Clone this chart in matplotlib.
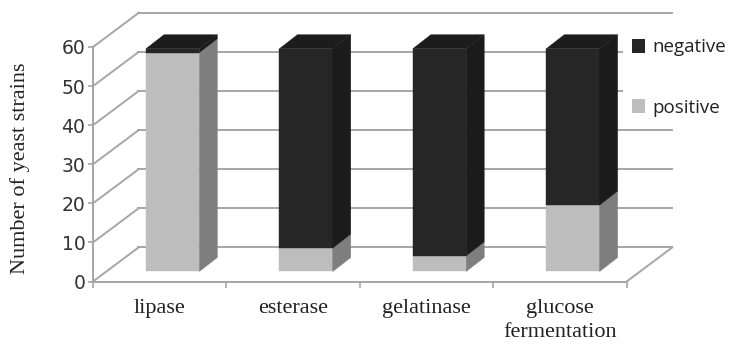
import matplotlib
matplotlib.use("Agg")
import matplotlib.pyplot as plt
from matplotlib.patches import Polygon, Patch

categories = ["lipase", "esterase", "gelatinase", "glucose\nfermentation"]
positive = [56, 6, 4, 17]
negative = [1, 51, 53, 40]
y_ticks = [0, 10, 20, 30, 40, 50, 60]

# shades of each segment: front, side, top
shades = {
    "positive": ("#bdbdbd", "#7e7e7e", "#1c1c1c"),
    "negative": ("#262626", "#1b1b1b", "#1c1c1c"),
}
grid_color = "#a6a6a6"
text_color = "#333333"

# depth of the chart, in data units
wall_dx, wall_dy = 0.341, 8.7
bar_dx, bar_dy = 0.135, 3.58
bar_left, bar_width = 0.397, 0.40
floor_dy = 2.56

fig = plt.figure(figsize=(7.29, 3.45), dpi=100)
ax = fig.add_axes([93 / 729, (345 - 281.5) / 345, 533.7 / 729, 234.5 / 345])
ax.set_xlim(0, 4)
ax.set_ylim(0, 60)

# walls and floor
for t in y_ticks:
    ax.plot([0, wall_dx], [t, t + wall_dy], color=grid_color, lw=1.4, clip_on=False, zorder=1)
    ax.plot([wall_dx, 4 + wall_dx], [t + wall_dy, t + wall_dy], color=grid_color, lw=1.4, clip_on=False, zorder=1)
ax.plot([4, 4 + wall_dx], [0, wall_dy], color=grid_color, lw=1.4, clip_on=False, zorder=1)


def draw_box(i, y0, y1, kind, top):
    front, side, cap = shades[kind]
    x0 = i + bar_left
    x1 = x0 + bar_width
    ax.add_patch(Polygon([(x0, y0), (x1, y0), (x1, y1), (x0, y1)], fc=front, ec=front, lw=0.3, clip_on=False, zorder=3))
    ax.add_patch(Polygon([(x1, y0), (x1 + bar_dx, y0 + bar_dy), (x1 + bar_dx, y1 + bar_dy), (x1, y1)],
                         fc=side, ec=side, lw=0.3, clip_on=False, zorder=3))
    if top:
        ax.add_patch(Polygon([(x0, y1), (x1, y1), (x1 + bar_dx, y1 + bar_dy), (x0 + bar_dx, y1 + bar_dy)],
                             fc=cap, ec=cap, lw=0.3, clip_on=False, zorder=3))


for i in range(len(categories)):
    base = floor_dy
    draw_box(i, base, base + positive[i], "positive", False)
    draw_box(i, base + positive[i], base + positive[i] + negative[i], "negative", True)

for side in ["top", "right"]:
    ax.spines[side].set_visible(False)
for side in ["left", "bottom"]:
    ax.spines[side].set_color(grid_color)
    ax.spines[side].set_linewidth(1.4)

ax.set_yticks(y_ticks)
ax.tick_params(axis="y", length=3.5, width=1.2, color=grid_color, pad=2, labelsize=13.5, labelcolor=text_color)
ax.set_xticks(range(5))
ax.set_xticklabels([])
ax.tick_params(axis="x", length=4, width=1.2, color=grid_color)

for i, name in enumerate(categories):
    ax.annotate(name, (i + 0.5, 0), xytext=(0, -12.5), textcoords="offset points", ha="center", va="top",
                family="Liberation Serif", fontsize=16, color="#222222", linespacing=1.38, annotation_clip=False)

ax.set_ylabel("Number of yeast strains", family="Liberation Serif", fontsize=16, color="#222222")
ax.yaxis.set_label_coords(-0.118, 0.485)

handles = [Patch(fc=shades["negative"][0], label="negative"), Patch(fc=shades["positive"][0], label="positive")]
leg = fig.legend(handles=handles, loc="upper left", bbox_to_anchor=(623 / 729, 1 - 29 / 345), frameon=True,
                 facecolor="white", edgecolor="none", framealpha=1, fancybox=False, prop={"family": "Open Sans", "size": 13.5},
                 handlelength=0.68, handleheight=0.75, handletextpad=0.36, labelspacing=2.25, borderpad=0.5,
                 borderaxespad=0, labelcolor="#222222")
leg.set_zorder(5)

fig.savefig("out.png", dpi=100)
